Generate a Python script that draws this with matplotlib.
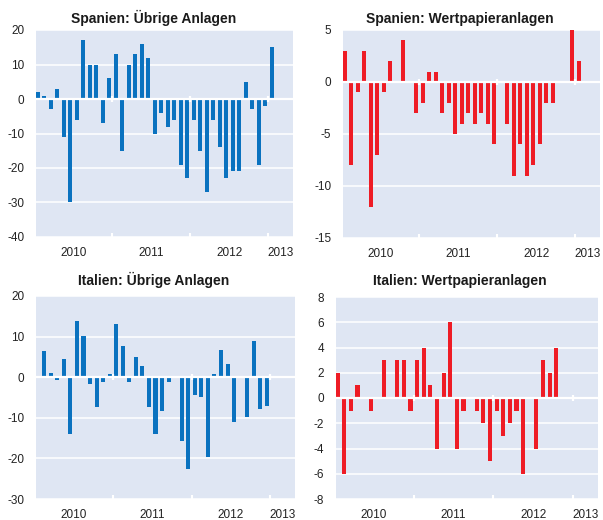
import matplotlib
matplotlib.use("Agg")
import matplotlib.pyplot as plt
import matplotlib.transforms as mtransforms
import numpy as np

plt.rcParams['font.family'] = ['Liberation Sans', 'DejaVu Sans']
plt.rcParams['axes.unicode_minus'] = False

# Monthly data Jan 2010 .. Jan 2013
es_uebrige = [2, 1, -3, 3, -11, -30, -6, 17, 10, 10, -7, 6,
              13, -15, 10, 13, 16, 12, -10, -4, -8, -6, -19, -23,
              -6, -15, -27, -6, -14, -23, -21, -21, 5, -3, -19, -2,
              15]
es_wertpapier = [3, -8, -1, 3, -12, -7, -1, 2, 0, 4, 0, -3,
                 -2, 1, 1, -3, -2, -5, -4, -3, -4, -3, -4, -6,
                 0, -4, -9, -6, -9, -8, -6, -2, -2, 0, 0, 5,
                 2]
it_uebrige = [0.4, 6.4, 1.1, -0.7, 4.5, -14.1, 13.9, 10.1, -1.6, -7.4, -1.2, 0.9,
              13.1, 7.6, -1.2, 4.9, 2.7, -7.3, -13.9, -8.3, -1.2, 0.2, -15.6, -22.6,
              -4.3, -4.8, -19.7, 0.9, 6.8, 3.3, -11.1, 0.2, -9.7, 9.0, -7.8, -7.2,
              0.2]
it_wertpapier = [2, -6, -1, 1, 0, -1, 0, 3, 0, 3, 3, -1,
                 3, 4, 1, -4, 2, 6, -4, -1, 0, -1, -2, -5,
                 -1, -3, -2, -1, -6, 0, -4, 3, 2, 4, 0, 0,
                 0]

years = ["2010", "2011", "2012", "2013"]
year_label_pos = [6, 18, 30, 37.9]
year_bounds = [12, 24, 36]

titles = ["Spanien: Übrige Anlagen", "Spanien: Wertpapieranlagen",
          "Italien: Übrige Anlagen", "Italien: Wertpapieranlagen"]
series = [es_uebrige, es_wertpapier, it_uebrige, it_wertpapier]
ylims = [(-40, 20), (-15, 5), (-30, 20), (-8, 8)]
ysteps = [10, 5, 10, 2]

BLUE = "#0a72bf"
RED = "#ee1c25"
BG = "#dfe6f3"
colors = [BLUE, RED, BLUE, RED]

W, H = 603, 520
boxes = [(36, 293, 30, 237), (343, 600, 30, 238),
         (36, 295, 296, 499), (336, 598, 297, 499)]
title_x = [154, 460, 154, 460]
title_base = [22.7, 22.7, 285, 285]

fig = plt.figure(figsize=(W / 100, H / 100), dpi=100)

for k in range(4):
    l, r, t, b = boxes[k]
    ax = fig.add_axes([l / W, 1 - b / H, (r - l) / W, (b - t) / H])
    ax.set_facecolor(BG)
    for s in ax.spines.values():
        s.set_visible(False)
    vals = series[k]
    x = np.arange(len(vals)) + 0.5
    ax.bar(x, vals, width=0.62, color=colors[k], zorder=2, linewidth=0)
    ax.set_xlim(0.25, 39.8)
    lo, hi = ylims[k]
    ax.set_ylim(lo, hi)
    ax.set_yticks(np.arange(lo, hi + 0.01, ysteps[k]))
    ax.yaxis.grid(True, color="white", linewidth=1.1)
    ax.set_axisbelow(True)
    ax.axhline(0, color="white", linewidth=1.6, zorder=3)
    ax.tick_params(axis="y", length=0, pad=8.5, labelsize=8.5, labelcolor="#222222")
    ax.set_xticks(year_bounds)
    ax.set_xticklabels([])
    ax.tick_params(axis="x", direction="in", length=3, width=1.5, color="white")
    ax.plot(year_bounds, [0] * len(year_bounds), linestyle="none", marker="|",
            markersize=5, markeredgewidth=1.6, color="white", zorder=4)
    trans = mtransforms.offset_copy(ax.get_xaxis_transform(), fig=fig,
                                    x=0, y=-19 * 0.72, units="points")
    for lab, pos in zip(years, year_label_pos):
        ax.text(pos, 0, lab, transform=trans, ha="center", va="baseline",
                fontsize=8.5, color="#222222")
    fig.text(title_x[k] / W, 1 - title_base[k] / H, titles[k], ha="center",
             va="baseline", fontsize=10, fontweight="bold", color="#1a1a1a")

fig.savefig("out.png", dpi=100)
